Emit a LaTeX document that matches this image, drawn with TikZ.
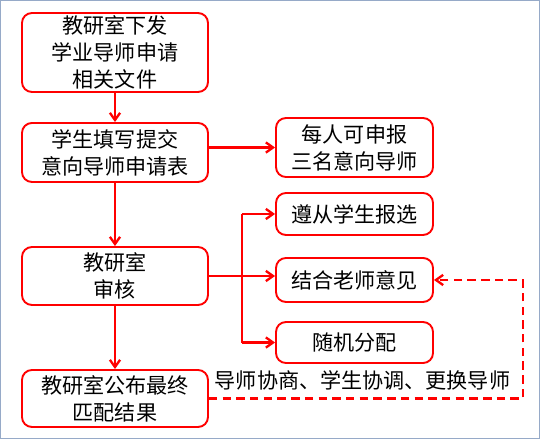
\documentclass[tikz,border=0pt]{standalone}
\usepackage{fontspec}
\setmainfont{Noto Sans CJK SC}
\usetikzlibrary{arrows.meta}

\begin{document}
\begin{tikzpicture}[
        box/.style={draw=red,line width=1.8pt,rounded corners=0.33cm,fill=white,align=center,inner sep=0pt},
        wire/.style={draw=red,line width=2.2pt},
        link/.style={wire,-{Straight Barb[length=2.4mm,width=3.4mm]}},
        every node/.style={font=\fontsize{20pt}{25.6pt}\selectfont}]
        \useasboundingbox(0,0)rectangle(18,-14.633);
        \draw[color={rgb,255:red,150;green,170;blue,200},line width=0.8pt](0.03,-0.03)rectangle(17.97,-14.6);
        \node(notice)at(3.833,-1.75)[box,minimum width=6.2cm,minimum height=2.633cm]{教研室下发\\学业导师申请\\相关文件};
        \node(apply)at(3.833,-5.083)[box,minimum width=6.2cm,minimum height=1.967cm]{学生填写提交\\意向导师申请表};
        \node(review)at(3.833,-9.2)[box,minimum width=6.2cm,minimum height=1.933cm]{教研室\\审核};
        \node(result)at(3.833,-13.283)[box,minimum width=6.2cm,minimum height=1.9cm]{教研室公布最终\\匹配结果};
        \node(three)at(11.817,-4.917)[box,minimum width=5.233cm,minimum height=1.967cm]{每人可申报\\三名意向导师};
        \node(follow)at(11.817,-7.133)[box,minimum width=5.233cm,minimum height=1.4cm]{遵从学生报选};
        \node(combine)at(11.817,-9.333)[box,minimum width=5.233cm,minimum height=1.467cm]{结合老师意见};
        \node(random)at(11.817,-11.417)[box,minimum width=5.233cm,minimum height=1.367cm]{随机分配};
        \node(adjust)at(12.083,-12.667){导师协商、学生协调、更换导师};
        \coordinate(split)at(8.067,-9.2);
        \coordinate(corner)at(17.433,-13.283);
        \draw[link](notice)--(apply);
        \draw[link](apply.east|-three)--(three);
        \draw[link](apply)--(review);
        \draw[link](review)--(result);
        \draw[wire](review)--(split);
        \draw[wire](split|-follow)--(split|-random);
        \draw[link](split|-follow)--(follow);
        \draw[link](split)--(combine.west|-split);
        \draw[link](split|-random)--(random);
        \draw[link,dashed,dash pattern=on 8pt off 5pt](result)--(corner)--(corner|-combine)--(combine);
    \end{tikzpicture}
\end{document}
